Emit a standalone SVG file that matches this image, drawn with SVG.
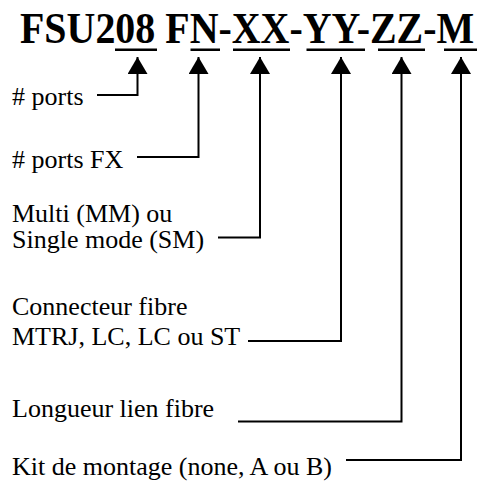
<svg xmlns="http://www.w3.org/2000/svg" width="484" height="482" viewBox="0 0 484 482">
<style>
.lbl{font-family:"Liberation Serif","Times New Roman",serif;font-size:26px;fill:#000}
.title{font-family:"Liberation Serif","Times New Roman",serif;font-size:44px;font-weight:bold;fill:#000}
.ul{fill:#000}
.conn{fill:none;stroke:#000;stroke-width:2;marker-end:url(#ah)}
</style>
<defs>
<marker id="ah" viewBox="0 0 17 20" refX="17" refY="10" markerWidth="17" markerHeight="20" markerUnits="userSpaceOnUse" orient="auto">
<path d="M0,0 L17,10 L0,20 z" fill="#000"/>
</marker>
</defs>
<rect width="484" height="482" fill="#fff"/>
<g id="title">
<text class="title" x="22.04" y="43" transform="scale(0.9075,1)">FSU208 FN-XX-YY-ZZ-M</text>
<rect class="ul" x="115" y="48.5" width="42" height="2.5"/>
<rect class="ul" x="190.5" y="48.5" width="29.5" height="2.5"/>
<rect class="ul" x="233" y="48.5" width="57" height="2.5"/>
<rect class="ul" x="306.5" y="48.5" width="58.5" height="2.5"/>
<rect class="ul" x="378" y="48.5" width="47" height="2.5"/>
<rect class="ul" x="444" y="48.5" width="33" height="2.5"/>
</g>
<g id="connectors">
<path class="conn" d="M97 95 H137.5 V57"/>
<path class="conn" d="M137 157 H198.5 V57"/>
<path class="conn" d="M218 237.5 H260 V57"/>
<path class="conn" d="M248 341 H341 V57"/>
<path class="conn" d="M238 421.5 H401.5 V57"/>
<path class="conn" d="M346 460 H461 V57"/>
</g>
<g id="n-ports"><text class="lbl" x="12" y="105">#&#160;ports</text></g>
<g id="n-ports-fx"><text class="lbl" x="12" y="168">#&#160;ports FX</text></g>
<g id="n-mode"><text class="lbl" x="12" y="221.5">Multi (MM) ou</text><text class="lbl" x="12" y="248">Single mode (SM)</text></g>
<g id="n-connecteur"><text class="lbl" x="12" y="315">Connecteur fibre</text><text class="lbl" x="12" y="345">MTRJ, LC, LC ou ST</text></g>
<g id="n-longueur"><text class="lbl" x="12" y="416.5">Longueur lien fibre</text></g>
<g id="n-kit"><text class="lbl" x="12" y="475">Kit de montage (none, A ou B)</text></g>
</svg>
